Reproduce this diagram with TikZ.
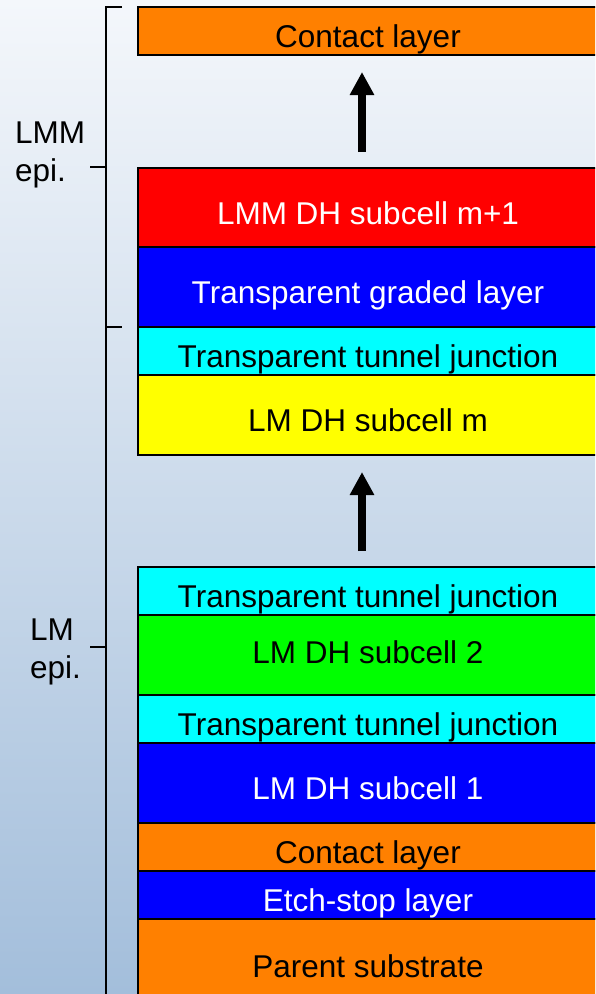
\documentclass[tikz,border=0pt]{standalone}
\usepackage{fontspec}
\setmainfont{Liberation Sans}
\usetikzlibrary{arrows.meta}
\usetikzlibrary{positioning}
\definecolor{layerorange}{rgb}{1,0.5,0}
\definecolor{layercyan}{rgb}{0,1,1}
\definecolor{layeryellow}{rgb}{1,1,0}
\definecolor{layergreen}{rgb}{0,1,0}
\definecolor{layerblue}{rgb}{0,0,1}
\definecolor{layerred}{rgb}{1,0,0}
\definecolor{bgtop}{RGB}{244,247,251}
\definecolor{bgbottom}{RGB}{163,190,219}

\begin{document}
\begin{tikzpicture}[x=1pt,y=-1pt,
  layer/.style={draw=black,line width=1.5pt,outer sep=0pt,inner sep=0pt,
    minimum width=460pt,text height=33pt,text depth=0pt,
    font=\fontsize{31.5}{38}\selectfont},
  thinlayer/.style={layer,minimum height=48pt},
  thicklayer/.style={layer,minimum height=80pt},
  bigarrow/.style={-{Triangle[width=23pt,length=23pt]},line width=8pt},
  bracket/.style={line width=1.5pt},
  epilabel/.style={align=left,inner sep=0pt,anchor=north west,
    font=\fontsize{31.5}{38}\selectfont}]
\useasboundingbox (0,0) rectangle (595,994);
\clip (0,0) rectangle (595,994);
\shade[top color=bgtop,bottom color=bgbottom] (0,0) rectangle (595,994);

% LMM part
\node[thinlayer,fill=layerorange,anchor=north west] (ctTop) at (138,7) {Contact layer};
\node[thicklayer,fill=layerred,text=white,minimum height=79pt,anchor=north west] (subMp) at (138,168) {LMM DH subcell m+1};
\node[thicklayer,fill=layerblue,text=white,below=0pt of subMp] (graded) {Transparent graded layer};
\node[thinlayer,fill=layercyan,below=0pt of graded] (tjM) {Transparent tunnel junction};
\node[thicklayer,fill=layeryellow,below=0pt of tjM] (subM) {LM DH subcell m};

% LM part
\node[thinlayer,fill=layercyan,anchor=north west] (tjB) at (138,567) {Transparent tunnel junction};
\node[thicklayer,fill=layergreen,text height=17pt,below=0pt of tjB] (subB) {LM DH subcell 2};
\node[thinlayer,fill=layercyan,below=0pt of subB] (tjA) {Transparent tunnel junction};
\node[thicklayer,fill=layerblue,text=white,below=0pt of tjA] (subA) {LM DH subcell 1};
\node[thinlayer,fill=layerorange,below=0pt of subA] (ctBot) {Contact layer};
\node[thinlayer,fill=layerblue,text=white,below=0pt of ctBot] (etch) {Etch-stop layer};
\node[layer,fill=layerorange,minimum height=84pt,below=0pt of etch] (sub) {Parent substrate};

% growth arrows
\coordinate (ax) at (362,0);
\draw[bigarrow,shorten <=16pt,shorten >=17pt] (subMp.north -| ax) -- (ctTop.south -| ax);
\draw[bigarrow,shorten <=16pt,shorten >=17pt] (tjB.north -| ax) -- (subM.south -| ax);

% brackets
\draw[bracket] (122,7) -- (106,7) -- (106,1000);
\draw[bracket] (90,167) -- (106,167);
\draw[bracket] (106,327) -- (122,327);
\draw[bracket] (90,647) -- (106,647);
\node[epilabel] (lmm) at (15,122) {LMM\\epi.};
\node[epilabel] (lm) at (30,619) {LM\\epi.};
\end{tikzpicture}
\end{document}
